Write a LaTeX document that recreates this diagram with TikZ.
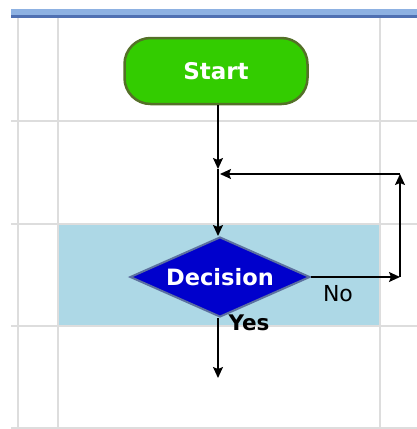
\documentclass[tikz,border=0pt]{standalone}
\usepackage{fontspec}
\newfontfamily\flowfont{DejaVu Sans}
\usetikzlibrary{shapes.geometric,arrows.meta}

\definecolor{gridgray}{RGB}{221,221,221}
\definecolor{barblue}{RGB}{141,177,226}
\definecolor{bardark}{RGB}{79,112,178}
\definecolor{laneblue}{RGB}{173,216,230}
\definecolor{startgreen}{RGB}{51,204,0}
\definecolor{startedge}{RGB}{84,112,40}
\definecolor{decblue}{RGB}{0,0,204}
\definecolor{decedge}{RGB}{92,112,160}

\tikzset{
  flow/.style={draw=black,line width=1.5pt,-{Stealth[length=11pt,width=10pt,inset=2pt]}},
  gridline/.style={draw=gridgray,line width=1.6pt},
  label/.style={font=\flowfont\fontsize{22}{24}\selectfont,text=black,inner sep=0pt}
}

\begin{document}
\begin{tikzpicture}[x=1pt,y=-1pt]
  \useasboundingbox (0,0) rectangle (417,429);

  % Title bar at the top
  \fill[barblue] (11,9) rectangle (417,15);
  \fill[bardark] (11,15) rectangle (417,18);

  % Shaded lane for the decision
  \fill[laneblue] (58,224) rectangle (380,326);

  % Grid: columns and rows
  \foreach \gx in {18,58,380} \draw[gridline] (\gx,18) -- (\gx,429);
  \foreach \gy in {121,224,326,428} \draw[gridline] (11,\gy) -- (417,\gy);

  % Shapes
  \node[draw=startedge,line width=2.5pt,fill=startgreen,rounded corners=26pt,
        minimum width=183pt,minimum height=66pt,
        font=\flowfont\bfseries\fontsize{23}{26}\selectfont,text=white] (start) at (216,71) {Start};
  \node[diamond,draw=decedge,line width=2pt,fill=decblue,aspect=2.25,inner sep=0pt,
        minimum width=180pt,minimum height=80pt,
        font=\flowfont\bfseries\fontsize{22.5}{25}\selectfont,text=white] (dec) at (220,277) {Decision};

  % Junction points of the loop
  \coordinate (join) at (218,169);
  \coordinate (right) at (400,277);
  \coordinate (top) at (400,174);
  \coordinate (back) at (220,174);
  \coordinate (out) at (218,378);

  % Connectors
  \draw[flow] (start.south -| join) -- (join);
  \draw[flow] (join) -- (join |- dec.north);
  \draw[flow] (dec.east) -- (right);
  \draw[flow] (right) -- (top);
  \draw[flow] (top) -- (back);
  \draw[flow] (join |- dec.south) -- (out);

  % Branch labels
  \node[label] (no) at (338,294) {No};
  \node[label,font=\flowfont\bfseries\fontsize{21.5}{24}\selectfont] (yes) at (249,323) {Yes};
\end{tikzpicture}
\end{document}
